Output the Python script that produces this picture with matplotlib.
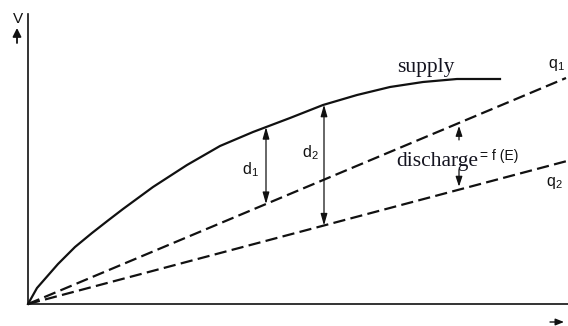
import numpy as np
import matplotlib
matplotlib.use('Agg')
import matplotlib.pyplot as plt

plt.rcParams['mathtext.fontset'] = 'custom'
plt.rcParams['mathtext.rm'] = 'Liberation Sans'

# supply curve (E along x, V up)
supply_E = [0, 9, 30, 47, 64, 80, 95, 125, 159, 192, 225, 262, 295, 329, 362, 395, 429, 472]
supply_V = [0, 16, 40, 57, 71, 83.5, 95, 117, 139, 158, 172, 186, 199, 209, 217, 222, 225, 225]

# discharge lines q1 and q2 (straight, from the origin)
q1_E = [0, 538]
q1_V = [0, 226]
q2_E = [0, 539]
q2_V = [0, 143]

# where the d1 / d2 gaps are measured, and where the discharge arrows sit
d1_E = 238
d2_E = 296
discharge_E = 431

ink = '#111111'

fig = plt.figure(figsize=(5.68, 3.26), dpi=100)
ax = fig.add_axes([0, 0, 1, 1])
ax.set_xlim(-28, 540)
ax.set_ylim(-22, 304)

# axes through the origin
for side in ['top', 'right']:
    ax.spines[side].set_visible(False)
for side in ['left', 'bottom']:
    ax.spines[side].set_position(('data', 0))
    ax.spines[side].set_linewidth(1.2)
    ax.spines[side].set_color(ink)
ax.spines['left'].set_bounds(0, 290)
ax.spines['bottom'].set_bounds(0, 540)
ax.set_xticks([])
ax.set_yticks([])

ax.plot(supply_E, supply_V, color=ink, lw=1.6, solid_joinstyle='round')
ax.plot(q1_E, q1_V, color=ink, lw=1.6, dashes=(5.5, 2.4))
ax.plot(q2_E, q2_V, color=ink, lw=1.6, dashes=(5.5, 2.4))

def vgap(E, top_E, top_V, bot_E, bot_V, label, lx, ly):
    top = np.interp(E, top_E, top_V)
    bot = np.interp(E, bot_E, bot_V)
    ax.annotate('', xy=(E, top), xytext=(E, bot),
                arrowprops=dict(arrowstyle='<|-|>,head_length=0.7,head_width=0.2',
                                color=ink, lw=0.9, shrinkA=0, shrinkB=0,
                                mutation_scale=10))
    ax.text(lx, ly, label, fontsize=11.5, family='Liberation Sans',
            color=ink, ha='center', va='center')

vgap(d1_E, supply_E, supply_V, q1_E, q1_V, r'd$_{\mathrm{1}}$', 222, 134)
vgap(d2_E, supply_E, supply_V, q2_E, q2_V, r'd$_{\mathrm{2}}$', 282, 151)

# small arrows pointing at the discharge lines
q1_at = np.interp(discharge_E, q1_E, q1_V)
q2_at = np.interp(discharge_E, q2_E, q2_V)
ax.annotate('', xy=(discharge_E, q1_at - 3), xytext=(discharge_E, q1_at - 17),
            arrowprops=dict(arrowstyle='-|>,head_length=0.6,head_width=0.2',
                            color=ink, lw=0.9, shrinkA=0, shrinkB=0, mutation_scale=10))
ax.annotate('', xy=(discharge_E, q2_at + 3), xytext=(discharge_E, q2_at + 20),
            arrowprops=dict(arrowstyle='-|>,head_length=0.6,head_width=0.2',
                            color=ink, lw=0.9, shrinkA=0, shrinkB=0, mutation_scale=10))

ax.text(369, 232, 'supply', fontsize=15.5, family='Liberation Serif',
        color='#141420', va='baseline')
ax.text(368, 138, 'discharge', fontsize=15.5, family='Liberation Serif',
        color='#141420', va='baseline')
ax.text(452, 144, '= f (E)', fontsize=10, family='Liberation Sans',
        color=ink, va='baseline')

ax.text(520, 239, r'q$_{\mathrm{1}}$', fontsize=11.5, family='Liberation Sans',
        color=ink, va='center')
ax.text(518, 121, r'q$_{\mathrm{2}}$', fontsize=11.5, family='Liberation Sans',
        color=ink, va='center')

# axis names: V with an up arrow, and a right arrow under the E axis
ax.text(-10, 285, 'V', fontsize=11, family='Liberation Sans', color=ink,
        ha='center', va='center')
ax.annotate('', xy=(-11, 276), xytext=(-11, 261),
            arrowprops=dict(arrowstyle='-|>,head_length=0.5,head_width=0.25',
                            color=ink, lw=1.3, shrinkA=0, shrinkB=0, mutation_scale=10))
ax.annotate('', xy=(536, -18), xytext=(522, -18),
            arrowprops=dict(arrowstyle='-|>,head_length=0.5,head_width=0.2',
                            color=ink, lw=1.0, shrinkA=0, shrinkB=0, mutation_scale=10))

fig.savefig('out.png', dpi=100)
